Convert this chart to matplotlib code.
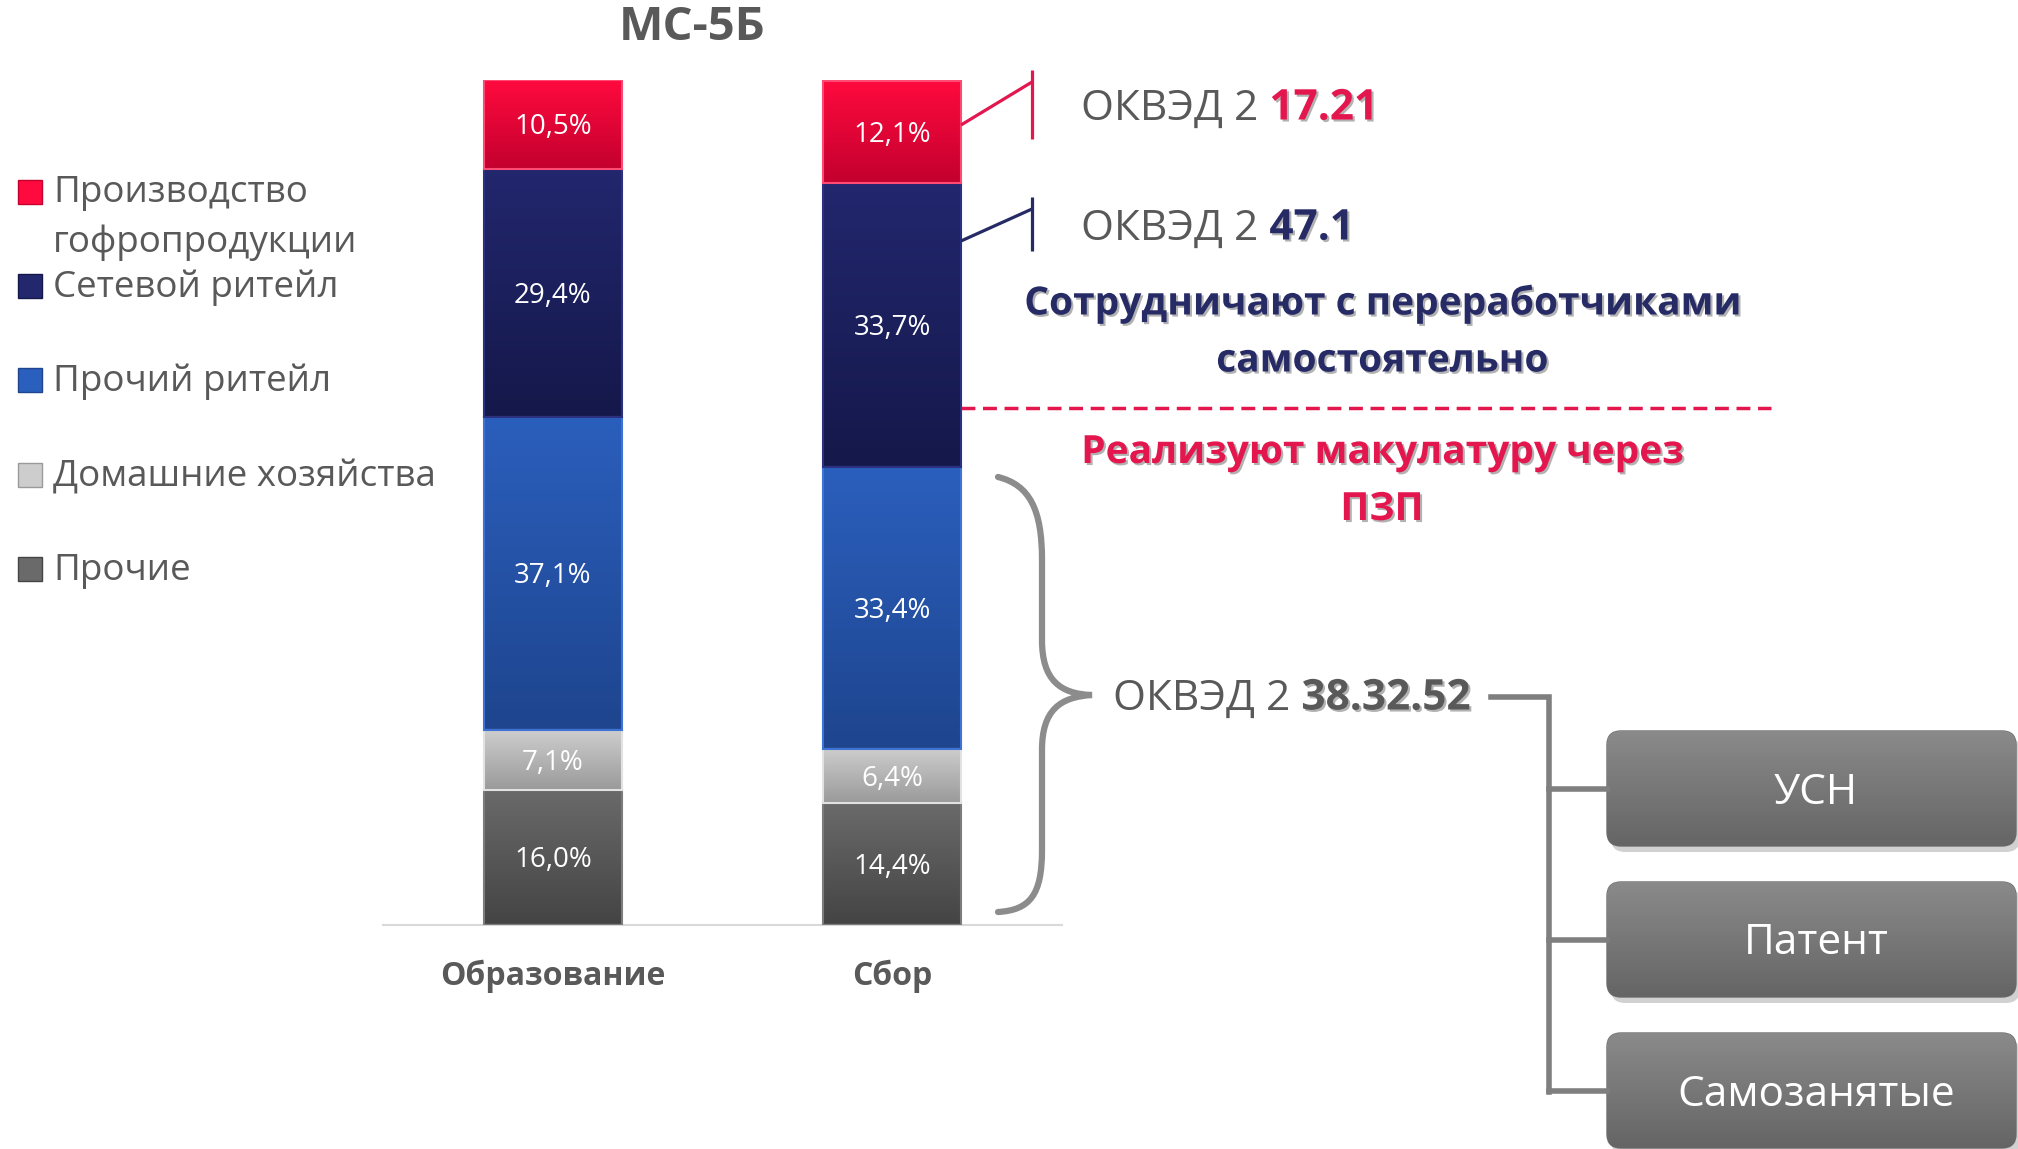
import matplotlib
matplotlib.use('Agg')
import matplotlib.pyplot as plt
import matplotlib.patheffects as pe
from matplotlib.colors import LinearSegmentedColormap
from matplotlib.patches import FancyBboxPatch, PathPatch, Rectangle
from matplotlib.path import Path
import numpy as np

plt.rcParams['font.family'] = ['Open Sans', 'DejaVu Sans']

# --- data ---
title = 'МС-5Б'
groups = ['Образование', 'Сбор']
series = ['Прочие', 'Домашние хозяйства', 'Прочий ритейл', 'Сетевой ритейл',
          'Производство\nгофропродукции']
prochie = [16.0, 14.4]
domashnie = [7.1, 6.4]
prochiy_ritejl = [37.1, 33.4]
setevoy_ritejl = [29.4, 33.7]
proizvodstvo = [10.5, 12.1]
okved_codes = ['17.21', '47.1', '38.32.52']
regimes = ['УСН', 'Патент', 'Самозанятые']

values = [prochie, domashnie, prochiy_ritejl, setevoy_ritejl, proizvodstvo]
# (top colour, bottom colour, edge colour)
grads = [('#6a6a6a', '#444444', '#7c7c7c'),
         ('#cdcdcd', '#9a9a9a', '#e2e2e2'),
         ('#2b5fbd', '#1e458e', '#3d72d6'),
         ('#22276e', '#15184a', '#2b3080'),
         ('#ff0a3e', '#c3002e', '#ff4a74')]

GRAY = '#595959'
RED = '#e3174e'
NAVY = '#262b66'
W, H = 2018, 1149

fig = plt.figure(figsize=(W / 100, H / 100), dpi=100)

# --- stacked bars ---
ax = fig.add_axes([383 / W, 1 - 925 / H, (1062 - 383) / W, (925 - 80) / H])
x = np.arange(len(groups))
width = 0.407
bottom = np.zeros(len(groups))
ramp = np.linspace(0, 1, 200).reshape(-1, 1)
for vals, (ctop, cbot, cedge) in zip(values, grads):
    bars = ax.bar(x, vals, width, bottom=bottom, facecolor='none',
                  edgecolor=cedge, linewidth=1.5, zorder=3)
    cmap = LinearSegmentedColormap.from_list('g', [cbot, ctop])
    for rect, v in zip(bars, vals):
        x0, y0 = rect.get_xy()
        w, h = rect.get_width(), rect.get_height()
        im = ax.imshow(ramp, extent=[x0, x0 + w, y0, y0 + h], origin='lower',
                       cmap=cmap, aspect='auto', zorder=2)
        im.set_clip_path(rect)
        ax.annotate(f'{v:.1f}%'.replace('.', ','), (x0 + w / 2, y0 + h / 2),
                    xytext=(0, -3), textcoords='offset pixels',
                    ha='center', va='center', color='white', fontsize=20, zorder=4)
    bottom += np.array(vals)

ax.set_xlim(-0.501, 1.501)
ax.set_ylim(0, 100.1)
for s in ['top', 'left', 'right']:
    ax.spines[s].set_visible(False)
ax.spines['bottom'].set_color('#d9d9d9')
ax.spines['bottom'].set_linewidth(1.5)
ax.set_yticks([])
ax.set_xticks(x, groups, fontsize=23, fontweight='bold', color=GRAY)
ax.tick_params(axis='x', length=0, pad=25)
ax.set_facecolor('none')

fig.text(692 / W, 1 - 28 / H, title, ha='center', va='center', fontsize=34,
         fontweight='bold', color=GRAY)

# --- overlay in pixel coordinates ---
ov = fig.add_axes([0, 0, 1, 1], zorder=5)
ov.set_xlim(0, W)
ov.set_ylim(H, 0)
ov.axis('off')

# legend
leg_y = [569, 475, 380, 286, 192]
for name, (ctop, cbot, cedge), yy in zip(series, grads, leg_y):
    ov.add_patch(Rectangle((18, yy - 12), 24, 24, facecolor=ctop, edgecolor=cbot, lw=1))
    if '\n' in name:
        ov.text(53, yy - 17, name, ha='left', va='top', fontsize=26.5, color=GRAY,
                linespacing=1.5)
    else:
        ov.text(53, yy + 2, name, ha='left', va='center', fontsize=26.5, color=GRAY)

shadow = [pe.withSimplePatchShadow(offset=(1.5, -1.5), shadow_rgbFace='black', alpha=0.3)]


def okved(xp, yp, code, color):
    t = ov.text(xp, yp, 'ОКВЭД 2 ', fontsize=30.5, color=GRAY, ha='left', va='center')
    ov.annotate(code, xy=(1, 0.5), xycoords=t, ha='left', va='center', fontsize=30.5,
                fontweight='bold', color=color, path_effects=shadow)


# 17.21 bracket
ov.plot([961, 1032], [125, 82], color=RED, lw=2.3, solid_capstyle='butt')
ov.plot([1032, 1032], [70, 139], color=RED, lw=2.3, solid_capstyle='butt')
okved(1081, 109, okved_codes[0], RED)

# 47.1 bracket
ov.plot([961, 1032], [241, 209], color=NAVY, lw=2.3, solid_capstyle='butt')
ov.plot([1032, 1032], [197, 251], color=NAVY, lw=2.3, solid_capstyle='butt')
okved(1081, 229, okved_codes[1], NAVY)

ov.text(1382, 332, 'Сотрудничают с переработчиками\nсамостоятельно', ha='center',
        va='center', fontsize=28, fontweight='bold', color=NAVY, linespacing=1.6,
        path_effects=shadow)
ov.plot([961, 1771], [408, 408], color=RED, lw=2.5, linestyle=(0, (4, 2.2)))
ov.text(1382, 481, 'Реализуют макулатуру через\nПЗП', ha='center', va='center',
        fontsize=28, fontweight='bold', color=RED, linespacing=1.6,
        path_effects=shadow)

# curly brace
verts = [(998, 477), (1030, 485), (1042, 510), (1042, 560),
         (1042, 640),
         (1042, 680), (1060, 694), (1092, 695),
         (1060, 697), (1042, 710), (1042, 750),
         (1042, 850),
         (1042, 895), (1030, 910), (998, 912)]
codes = [Path.MOVETO, Path.CURVE4, Path.CURVE4, Path.CURVE4,
         Path.LINETO,
         Path.CURVE4, Path.CURVE4, Path.CURVE4,
         Path.CURVE4, Path.CURVE4, Path.CURVE4,
         Path.LINETO,
         Path.CURVE4, Path.CURVE4, Path.CURVE4]
ov.add_patch(PathPatch(Path(verts, codes), facecolor='none', edgecolor='#8c8c8c',
                       lw=4.5, capstyle='round'))
okved(1113, 699, okved_codes[2], GRAY)

# tree connector
ov.plot([1491, 1549, 1549], [697, 697, 1092], color='#7f7f7f', lw=4,
        solid_joinstyle='miter')
box_tops = [731, 882, 1033]
box_h = 115
for top, label in zip(box_tops, regimes):
    mid = top + box_h / 2
    ov.plot([1549, 1607], [mid, mid], color='#7f7f7f', lw=4)
    sh = FancyBboxPatch((1611, top + 6), 409, box_h,
                        boxstyle='round,pad=0,rounding_size=14',
                        facecolor='black', edgecolor='none', alpha=0.18)
    ov.add_patch(sh)
    box = FancyBboxPatch((1607, top), 409, box_h,
                         boxstyle='round,pad=0,rounding_size=14',
                         facecolor='none', edgecolor='#6e6e6e', lw=1)
    ov.add_patch(box)
    bcmap = LinearSegmentedColormap.from_list('b', ['#656565', '#8a8a8a'])
    im = ov.imshow(ramp, extent=[1607, 2016, top + box_h, top], origin='lower',
                   cmap=bcmap, aspect='auto', zorder=1)
    im.set_clip_path(box)
    ov.text(1816, mid + 4, label, ha='center', va='center', fontsize=30.5,
            color='white', zorder=3)

ov.set_xlim(0, W)
ov.set_ylim(H, 0)

fig.savefig('out.png', dpi=100)
